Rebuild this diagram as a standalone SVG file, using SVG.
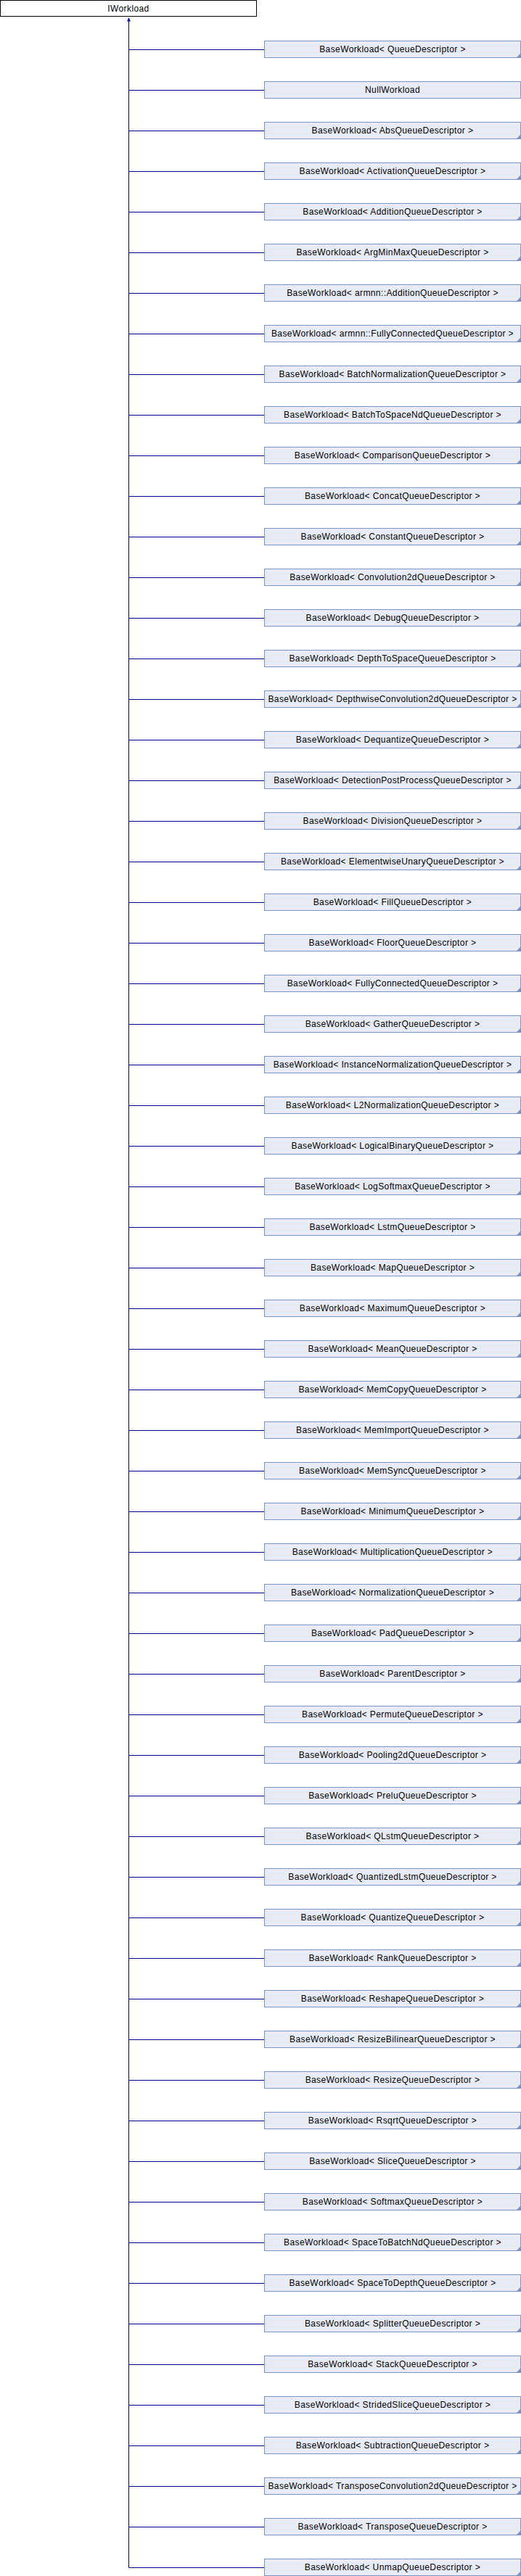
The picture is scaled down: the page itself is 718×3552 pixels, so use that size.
<svg xmlns="http://www.w3.org/2000/svg" xmlns:xlink="http://www.w3.org/1999/xlink" width="718" height="3552" viewBox="0 0 718 3552">
<style>
.root{fill:#ffffff;stroke:#000000;stroke-width:1}
.box{fill:#e8ecf6;stroke:#7a94cc;stroke-width:1}
.fold{fill:#7a94cc;stroke:none}
.lbl{font-family:"Liberation Sans",Arial,sans-serif;font-size:12px;letter-spacing:0.4px;fill:#000000;text-anchor:middle}
.edge{stroke:#000099;stroke-width:1;fill:none}
.arr{fill:#000099;stroke:none}
</style>
<defs>
<polygon id="foldmark" class="fold" points="717.5,73.5 717.5,80 711,80"/>
</defs>
<rect width="718" height="3552" fill="#ffffff"/>
<g id="connectors">
<path class="edge" d="M177.5,29 V3540.5"/>
<polygon class="arr" points="177.5,24 175,29.5 180,29.5"/>
<path class="edge" d="M177.5,68.5H364 M177.5,124.5H364 M177.5,180.5H364 M177.5,236.5H364 M177.5,292.5H364 M177.5,348.5H364 M177.5,404.5H364 M177.5,460.5H364 M177.5,516.5H364 M177.5,572.5H364 M177.5,628.5H364 M177.5,684.5H364 M177.5,740.5H364 M177.5,796.5H364 M177.5,852.5H364 M177.5,908.5H364 M177.5,964.5H364 M177.5,1020.5H364 M177.5,1076.5H364 M177.5,1132.5H364 M177.5,1188.5H364 M177.5,1244.5H364 M177.5,1300.5H364 M177.5,1356.5H364 M177.5,1412.5H364 M177.5,1468.5H364 M177.5,1524.5H364 M177.5,1580.5H364 M177.5,1636.5H364 M177.5,1692.5H364 M177.5,1748.5H364 M177.5,1804.5H364 M177.5,1860.5H364 M177.5,1916.5H364 M177.5,1972.5H364 M177.5,2028.5H364 M177.5,2084.5H364 M177.5,2140.5H364 M177.5,2196.5H364 M177.5,2252.5H364 M177.5,2308.5H364 M177.5,2364.5H364 M177.5,2420.5H364 M177.5,2476.5H364 M177.5,2532.5H364 M177.5,2588.5H364 M177.5,2644.5H364 M177.5,2700.5H364 M177.5,2756.5H364 M177.5,2812.5H364 M177.5,2868.5H364 M177.5,2924.5H364 M177.5,2980.5H364 M177.5,3036.5H364 M177.5,3092.5H364 M177.5,3148.5H364 M177.5,3204.5H364 M177.5,3260.5H364 M177.5,3316.5H364 M177.5,3372.5H364 M177.5,3428.5H364 M177.5,3484.5H364 M177.5,3540.5H364"/>
</g>
<g id="IWorkload">
<rect class="root" x="0.5" y="0.5" width="353" height="22"/>
<text class="lbl" x="177" y="15.5">IWorkload</text>
</g>
<g id="n0" transform="translate(0,0)"><rect class="box" x="364.5" y="56.5" width="353" height="23"/><use xlink:href="#foldmark"/><text class="lbl" x="541" y="72">BaseWorkload&lt; QueueDescriptor &gt;</text></g>
<g id="n1" transform="translate(0,56)"><rect class="box" x="364.5" y="56.5" width="353" height="23"/><text class="lbl" x="541" y="72">NullWorkload</text></g>
<g id="n2" transform="translate(0,112)"><rect class="box" x="364.5" y="56.5" width="353" height="23"/><use xlink:href="#foldmark"/><text class="lbl" x="541" y="72">BaseWorkload&lt; AbsQueueDescriptor &gt;</text></g>
<g id="n3" transform="translate(0,168)"><rect class="box" x="364.5" y="56.5" width="353" height="23"/><use xlink:href="#foldmark"/><text class="lbl" x="541" y="72">BaseWorkload&lt; ActivationQueueDescriptor &gt;</text></g>
<g id="n4" transform="translate(0,224)"><rect class="box" x="364.5" y="56.5" width="353" height="23"/><use xlink:href="#foldmark"/><text class="lbl" x="541" y="72">BaseWorkload&lt; AdditionQueueDescriptor &gt;</text></g>
<g id="n5" transform="translate(0,280)"><rect class="box" x="364.5" y="56.5" width="353" height="23"/><use xlink:href="#foldmark"/><text class="lbl" x="541" y="72">BaseWorkload&lt; ArgMinMaxQueueDescriptor &gt;</text></g>
<g id="n6" transform="translate(0,336)"><rect class="box" x="364.5" y="56.5" width="353" height="23"/><use xlink:href="#foldmark"/><text class="lbl" x="541" y="72">BaseWorkload&lt; armnn::AdditionQueueDescriptor &gt;</text></g>
<g id="n7" transform="translate(0,392)"><rect class="box" x="364.5" y="56.5" width="353" height="23"/><use xlink:href="#foldmark"/><text class="lbl" x="541" y="72">BaseWorkload&lt; armnn::FullyConnectedQueueDescriptor &gt;</text></g>
<g id="n8" transform="translate(0,448)"><rect class="box" x="364.5" y="56.5" width="353" height="23"/><use xlink:href="#foldmark"/><text class="lbl" x="541" y="72">BaseWorkload&lt; BatchNormalizationQueueDescriptor &gt;</text></g>
<g id="n9" transform="translate(0,504)"><rect class="box" x="364.5" y="56.5" width="353" height="23"/><use xlink:href="#foldmark"/><text class="lbl" x="541" y="72">BaseWorkload&lt; BatchToSpaceNdQueueDescriptor &gt;</text></g>
<g id="n10" transform="translate(0,560)"><rect class="box" x="364.5" y="56.5" width="353" height="23"/><use xlink:href="#foldmark"/><text class="lbl" x="541" y="72">BaseWorkload&lt; ComparisonQueueDescriptor &gt;</text></g>
<g id="n11" transform="translate(0,616)"><rect class="box" x="364.5" y="56.5" width="353" height="23"/><use xlink:href="#foldmark"/><text class="lbl" x="541" y="72">BaseWorkload&lt; ConcatQueueDescriptor &gt;</text></g>
<g id="n12" transform="translate(0,672)"><rect class="box" x="364.5" y="56.5" width="353" height="23"/><use xlink:href="#foldmark"/><text class="lbl" x="541" y="72">BaseWorkload&lt; ConstantQueueDescriptor &gt;</text></g>
<g id="n13" transform="translate(0,728)"><rect class="box" x="364.5" y="56.5" width="353" height="23"/><use xlink:href="#foldmark"/><text class="lbl" x="541" y="72">BaseWorkload&lt; Convolution2dQueueDescriptor &gt;</text></g>
<g id="n14" transform="translate(0,784)"><rect class="box" x="364.5" y="56.5" width="353" height="23"/><use xlink:href="#foldmark"/><text class="lbl" x="541" y="72">BaseWorkload&lt; DebugQueueDescriptor &gt;</text></g>
<g id="n15" transform="translate(0,840)"><rect class="box" x="364.5" y="56.5" width="353" height="23"/><use xlink:href="#foldmark"/><text class="lbl" x="541" y="72">BaseWorkload&lt; DepthToSpaceQueueDescriptor &gt;</text></g>
<g id="n16" transform="translate(0,896)"><rect class="box" x="364.5" y="56.5" width="353" height="23"/><use xlink:href="#foldmark"/><text class="lbl" x="541" y="72">BaseWorkload&lt; DepthwiseConvolution2dQueueDescriptor &gt;</text></g>
<g id="n17" transform="translate(0,952)"><rect class="box" x="364.5" y="56.5" width="353" height="23"/><use xlink:href="#foldmark"/><text class="lbl" x="541" y="72">BaseWorkload&lt; DequantizeQueueDescriptor &gt;</text></g>
<g id="n18" transform="translate(0,1008)"><rect class="box" x="364.5" y="56.5" width="353" height="23"/><use xlink:href="#foldmark"/><text class="lbl" x="541" y="72">BaseWorkload&lt; DetectionPostProcessQueueDescriptor &gt;</text></g>
<g id="n19" transform="translate(0,1064)"><rect class="box" x="364.5" y="56.5" width="353" height="23"/><use xlink:href="#foldmark"/><text class="lbl" x="541" y="72">BaseWorkload&lt; DivisionQueueDescriptor &gt;</text></g>
<g id="n20" transform="translate(0,1120)"><rect class="box" x="364.5" y="56.5" width="353" height="23"/><use xlink:href="#foldmark"/><text class="lbl" x="541" y="72">BaseWorkload&lt; ElementwiseUnaryQueueDescriptor &gt;</text></g>
<g id="n21" transform="translate(0,1176)"><rect class="box" x="364.5" y="56.5" width="353" height="23"/><use xlink:href="#foldmark"/><text class="lbl" x="541" y="72">BaseWorkload&lt; FillQueueDescriptor &gt;</text></g>
<g id="n22" transform="translate(0,1232)"><rect class="box" x="364.5" y="56.5" width="353" height="23"/><use xlink:href="#foldmark"/><text class="lbl" x="541" y="72">BaseWorkload&lt; FloorQueueDescriptor &gt;</text></g>
<g id="n23" transform="translate(0,1288)"><rect class="box" x="364.5" y="56.5" width="353" height="23"/><use xlink:href="#foldmark"/><text class="lbl" x="541" y="72">BaseWorkload&lt; FullyConnectedQueueDescriptor &gt;</text></g>
<g id="n24" transform="translate(0,1344)"><rect class="box" x="364.5" y="56.5" width="353" height="23"/><use xlink:href="#foldmark"/><text class="lbl" x="541" y="72">BaseWorkload&lt; GatherQueueDescriptor &gt;</text></g>
<g id="n25" transform="translate(0,1400)"><rect class="box" x="364.5" y="56.5" width="353" height="23"/><use xlink:href="#foldmark"/><text class="lbl" x="541" y="72">BaseWorkload&lt; InstanceNormalizationQueueDescriptor &gt;</text></g>
<g id="n26" transform="translate(0,1456)"><rect class="box" x="364.5" y="56.5" width="353" height="23"/><use xlink:href="#foldmark"/><text class="lbl" x="541" y="72">BaseWorkload&lt; L2NormalizationQueueDescriptor &gt;</text></g>
<g id="n27" transform="translate(0,1512)"><rect class="box" x="364.5" y="56.5" width="353" height="23"/><use xlink:href="#foldmark"/><text class="lbl" x="541" y="72">BaseWorkload&lt; LogicalBinaryQueueDescriptor &gt;</text></g>
<g id="n28" transform="translate(0,1568)"><rect class="box" x="364.5" y="56.5" width="353" height="23"/><use xlink:href="#foldmark"/><text class="lbl" x="541" y="72">BaseWorkload&lt; LogSoftmaxQueueDescriptor &gt;</text></g>
<g id="n29" transform="translate(0,1624)"><rect class="box" x="364.5" y="56.5" width="353" height="23"/><use xlink:href="#foldmark"/><text class="lbl" x="541" y="72">BaseWorkload&lt; LstmQueueDescriptor &gt;</text></g>
<g id="n30" transform="translate(0,1680)"><rect class="box" x="364.5" y="56.5" width="353" height="23"/><use xlink:href="#foldmark"/><text class="lbl" x="541" y="72">BaseWorkload&lt; MapQueueDescriptor &gt;</text></g>
<g id="n31" transform="translate(0,1736)"><rect class="box" x="364.5" y="56.5" width="353" height="23"/><use xlink:href="#foldmark"/><text class="lbl" x="541" y="72">BaseWorkload&lt; MaximumQueueDescriptor &gt;</text></g>
<g id="n32" transform="translate(0,1792)"><rect class="box" x="364.5" y="56.5" width="353" height="23"/><use xlink:href="#foldmark"/><text class="lbl" x="541" y="72">BaseWorkload&lt; MeanQueueDescriptor &gt;</text></g>
<g id="n33" transform="translate(0,1848)"><rect class="box" x="364.5" y="56.5" width="353" height="23"/><use xlink:href="#foldmark"/><text class="lbl" x="541" y="72">BaseWorkload&lt; MemCopyQueueDescriptor &gt;</text></g>
<g id="n34" transform="translate(0,1904)"><rect class="box" x="364.5" y="56.5" width="353" height="23"/><use xlink:href="#foldmark"/><text class="lbl" x="541" y="72">BaseWorkload&lt; MemImportQueueDescriptor &gt;</text></g>
<g id="n35" transform="translate(0,1960)"><rect class="box" x="364.5" y="56.5" width="353" height="23"/><use xlink:href="#foldmark"/><text class="lbl" x="541" y="72">BaseWorkload&lt; MemSyncQueueDescriptor &gt;</text></g>
<g id="n36" transform="translate(0,2016)"><rect class="box" x="364.5" y="56.5" width="353" height="23"/><use xlink:href="#foldmark"/><text class="lbl" x="541" y="72">BaseWorkload&lt; MinimumQueueDescriptor &gt;</text></g>
<g id="n37" transform="translate(0,2072)"><rect class="box" x="364.5" y="56.5" width="353" height="23"/><use xlink:href="#foldmark"/><text class="lbl" x="541" y="72">BaseWorkload&lt; MultiplicationQueueDescriptor &gt;</text></g>
<g id="n38" transform="translate(0,2128)"><rect class="box" x="364.5" y="56.5" width="353" height="23"/><use xlink:href="#foldmark"/><text class="lbl" x="541" y="72">BaseWorkload&lt; NormalizationQueueDescriptor &gt;</text></g>
<g id="n39" transform="translate(0,2184)"><rect class="box" x="364.5" y="56.5" width="353" height="23"/><use xlink:href="#foldmark"/><text class="lbl" x="541" y="72">BaseWorkload&lt; PadQueueDescriptor &gt;</text></g>
<g id="n40" transform="translate(0,2240)"><rect class="box" x="364.5" y="56.5" width="353" height="23"/><use xlink:href="#foldmark"/><text class="lbl" x="541" y="72">BaseWorkload&lt; ParentDescriptor &gt;</text></g>
<g id="n41" transform="translate(0,2296)"><rect class="box" x="364.5" y="56.5" width="353" height="23"/><use xlink:href="#foldmark"/><text class="lbl" x="541" y="72">BaseWorkload&lt; PermuteQueueDescriptor &gt;</text></g>
<g id="n42" transform="translate(0,2352)"><rect class="box" x="364.5" y="56.5" width="353" height="23"/><use xlink:href="#foldmark"/><text class="lbl" x="541" y="72">BaseWorkload&lt; Pooling2dQueueDescriptor &gt;</text></g>
<g id="n43" transform="translate(0,2408)"><rect class="box" x="364.5" y="56.5" width="353" height="23"/><use xlink:href="#foldmark"/><text class="lbl" x="541" y="72">BaseWorkload&lt; PreluQueueDescriptor &gt;</text></g>
<g id="n44" transform="translate(0,2464)"><rect class="box" x="364.5" y="56.5" width="353" height="23"/><use xlink:href="#foldmark"/><text class="lbl" x="541" y="72">BaseWorkload&lt; QLstmQueueDescriptor &gt;</text></g>
<g id="n45" transform="translate(0,2520)"><rect class="box" x="364.5" y="56.5" width="353" height="23"/><use xlink:href="#foldmark"/><text class="lbl" x="541" y="72">BaseWorkload&lt; QuantizedLstmQueueDescriptor &gt;</text></g>
<g id="n46" transform="translate(0,2576)"><rect class="box" x="364.5" y="56.5" width="353" height="23"/><use xlink:href="#foldmark"/><text class="lbl" x="541" y="72">BaseWorkload&lt; QuantizeQueueDescriptor &gt;</text></g>
<g id="n47" transform="translate(0,2632)"><rect class="box" x="364.5" y="56.5" width="353" height="23"/><use xlink:href="#foldmark"/><text class="lbl" x="541" y="72">BaseWorkload&lt; RankQueueDescriptor &gt;</text></g>
<g id="n48" transform="translate(0,2688)"><rect class="box" x="364.5" y="56.5" width="353" height="23"/><use xlink:href="#foldmark"/><text class="lbl" x="541" y="72">BaseWorkload&lt; ReshapeQueueDescriptor &gt;</text></g>
<g id="n49" transform="translate(0,2744)"><rect class="box" x="364.5" y="56.5" width="353" height="23"/><use xlink:href="#foldmark"/><text class="lbl" x="541" y="72">BaseWorkload&lt; ResizeBilinearQueueDescriptor &gt;</text></g>
<g id="n50" transform="translate(0,2800)"><rect class="box" x="364.5" y="56.5" width="353" height="23"/><use xlink:href="#foldmark"/><text class="lbl" x="541" y="72">BaseWorkload&lt; ResizeQueueDescriptor &gt;</text></g>
<g id="n51" transform="translate(0,2856)"><rect class="box" x="364.5" y="56.5" width="353" height="23"/><use xlink:href="#foldmark"/><text class="lbl" x="541" y="72">BaseWorkload&lt; RsqrtQueueDescriptor &gt;</text></g>
<g id="n52" transform="translate(0,2912)"><rect class="box" x="364.5" y="56.5" width="353" height="23"/><use xlink:href="#foldmark"/><text class="lbl" x="541" y="72">BaseWorkload&lt; SliceQueueDescriptor &gt;</text></g>
<g id="n53" transform="translate(0,2968)"><rect class="box" x="364.5" y="56.5" width="353" height="23"/><use xlink:href="#foldmark"/><text class="lbl" x="541" y="72">BaseWorkload&lt; SoftmaxQueueDescriptor &gt;</text></g>
<g id="n54" transform="translate(0,3024)"><rect class="box" x="364.5" y="56.5" width="353" height="23"/><use xlink:href="#foldmark"/><text class="lbl" x="541" y="72">BaseWorkload&lt; SpaceToBatchNdQueueDescriptor &gt;</text></g>
<g id="n55" transform="translate(0,3080)"><rect class="box" x="364.5" y="56.5" width="353" height="23"/><use xlink:href="#foldmark"/><text class="lbl" x="541" y="72">BaseWorkload&lt; SpaceToDepthQueueDescriptor &gt;</text></g>
<g id="n56" transform="translate(0,3136)"><rect class="box" x="364.5" y="56.5" width="353" height="23"/><use xlink:href="#foldmark"/><text class="lbl" x="541" y="72">BaseWorkload&lt; SplitterQueueDescriptor &gt;</text></g>
<g id="n57" transform="translate(0,3192)"><rect class="box" x="364.5" y="56.5" width="353" height="23"/><use xlink:href="#foldmark"/><text class="lbl" x="541" y="72">BaseWorkload&lt; StackQueueDescriptor &gt;</text></g>
<g id="n58" transform="translate(0,3248)"><rect class="box" x="364.5" y="56.5" width="353" height="23"/><use xlink:href="#foldmark"/><text class="lbl" x="541" y="72">BaseWorkload&lt; StridedSliceQueueDescriptor &gt;</text></g>
<g id="n59" transform="translate(0,3304)"><rect class="box" x="364.5" y="56.5" width="353" height="23"/><use xlink:href="#foldmark"/><text class="lbl" x="541" y="72">BaseWorkload&lt; SubtractionQueueDescriptor &gt;</text></g>
<g id="n60" transform="translate(0,3360)"><rect class="box" x="364.5" y="56.5" width="353" height="23"/><use xlink:href="#foldmark"/><text class="lbl" x="541" y="72">BaseWorkload&lt; TransposeConvolution2dQueueDescriptor &gt;</text></g>
<g id="n61" transform="translate(0,3416)"><rect class="box" x="364.5" y="56.5" width="353" height="23"/><use xlink:href="#foldmark"/><text class="lbl" x="541" y="72">BaseWorkload&lt; TransposeQueueDescriptor &gt;</text></g>
<g id="n62" transform="translate(0,3472)"><rect class="box" x="364.5" y="56.5" width="353" height="23"/><use xlink:href="#foldmark"/><text class="lbl" x="541" y="72">BaseWorkload&lt; UnmapQueueDescriptor &gt;</text></g>
</svg>
